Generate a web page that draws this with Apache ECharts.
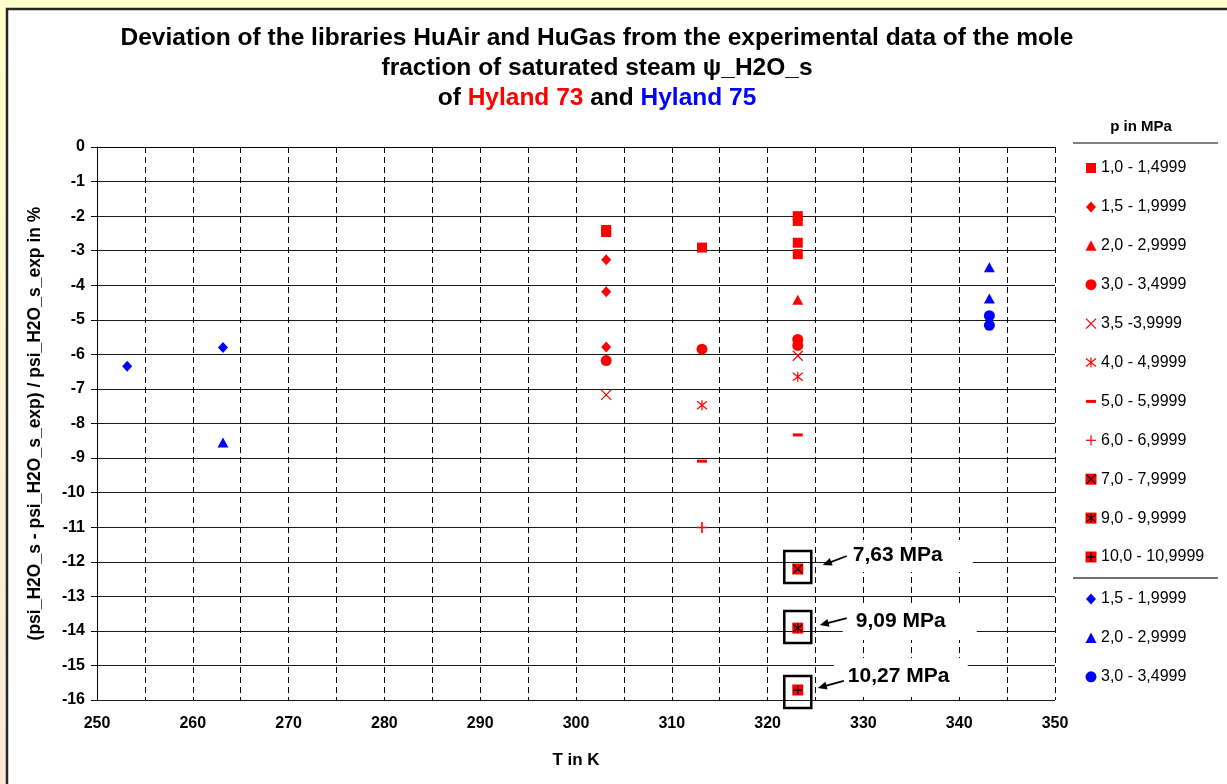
<!DOCTYPE html>
<html><head><meta charset="utf-8">
<script src="https://cdn.jsdelivr.net/npm/echarts@6/dist/echarts.min.js"></script>
<style>html,body{margin:0;padding:0;background:#fff;}#c{width:1227px;height:784px;}</style>
</head><body><div id="c"></div>
<script>
// ---- Data: Hyland 73 (red), [T in K, deviation in %]
const h73_p10  = [[303.15,-2.40],[303.15,-2.46],[313.15,-2.91],[323.15,-2.00],[323.15,-2.14],[323.15,-2.77],[323.15,-3.10]];
const h73_p15  = [[303.15,-3.26],[303.15,-4.19],[303.15,-5.79]];
const h73_p20  = [[323.15,-4.42]];
const h73_p30  = [[303.15,-6.18],[313.15,-5.85],[323.15,-5.57],[323.15,-5.74]];
const h73_p35  = [[303.15,-7.17],[323.15,-6.04]];
const h73_p40  = [[313.15,-7.47],[323.15,-6.65]];
const h73_p50  = [[313.15,-9.09],[323.15,-8.33]];
const h73_p60  = [[313.15,-11.01]];
const h73_p70  = [[323.15,-12.21]];
const h73_p90  = [[323.15,-13.92]];
const h73_p100 = [[323.15,-15.71]];
// ---- Data: Hyland 75 (blue)
const h75_p15 = [[253.15,-6.34],[263.15,-5.80]];
const h75_p20 = [[263.15,-8.55],[343.15,-3.48],[343.15,-4.38]];
const h75_p30 = [[343.15,-4.88],[343.15,-5.16]];

const legendLabels73 = ['1,0 - 1,4999','1,5 - 1,9999','2,0 - 2,9999','3,0 - 3,4999','3,5 -3,9999','4,0 - 4,9999','5,0 - 5,9999','6,0 - 6,9999','7,0 - 7,9999','9,0 - 9,9999','10,0 - 10,9999'];
const legendLabels75 = ['1,5 - 1,9999','2,0 - 2,9999','3,0 - 3,4999'];
const annotationTexts = ['7,63 MPa','9,09 MPa','10,27 MPa'];
const annotationPoints = [h73_p70[0], h73_p90[0], h73_p100[0]];

const titleLines = ['Deviation of the libraries HuAir and HuGas from the experimental data of the mole','fraction of saturated steam \u03c8_H2O_s'];
const titleParts = ['of ','Hyland 73',' and ','Hyland 75'];
const xName = 'T in K';
const yName = '(psi_H2O_s - psi_H2O_s_exp) / psi_H2O_s_exp in %';
const legendTitle = 'p in MPa';

const RED = '#FF0000', BLUE = '#0000FF', BLK = '#000000';
const FONT = '"Liberation Sans", Arial, sans-serif';

const P_CROSS = 'path://M0,0L10,10M10,0L0,10';
const P_STAR = 'path://M0,1L10,9M10,1L0,9M5,0L5,10';
const P_PLUS = 'path://M5,0L5,10M0,5L10,5';

function filled(name, data, color, symbol, size){
  return {type:'scatter', name, data, symbol, symbolSize:size, itemStyle:{color, opacity:1}, emphasis:{disabled:true}, silent:true, z:3};
}
function stroked(name, data, color, symbol, size, w){
  return {type:'scatter', name, data, symbol, symbolSize:size, itemStyle:{color:'rgba(0,0,0,0)', borderColor:color, borderWidth:w||1.2, opacity:1}, emphasis:{disabled:true}, silent:true, z:4};
}

const series = [
  filled('73 1,0', h73_p10, RED, 'rect', 10),
  filled('73 1,5', h73_p15, RED, 'diamond', [10,11]),
  filled('73 2,0', h73_p20, RED, 'triangle', [11,10]),
  filled('73 3,0', h73_p30, RED, 'circle', 11),
  stroked('73 3,5', h73_p35, RED, P_CROSS, 10),
  stroked('73 4,0', h73_p40, RED, P_STAR, 10),
  filled('73 5,0', h73_p50, RED, 'rect', [10,3]),
  stroked('73 6,0', h73_p60, RED, P_PLUS, 11, 1.6),
  filled('73 7,0', h73_p70, RED, 'rect', 11),
  stroked('73 7,0 x', h73_p70, BLK, P_CROSS, 9, 1.2),
  filled('73 9,0', h73_p90, RED, 'rect', 11),
  stroked('73 9,0 x', h73_p90, BLK, P_STAR, 9, 1.2),
  filled('73 10,0', h73_p100, RED, 'rect', 11),
  stroked('73 10,0 x', h73_p100, BLK, P_PLUS, 9, 1.4),
  filled('75 1,5', h75_p15, BLUE, 'diamond', [10,11]),
  filled('75 2,0', h75_p20, BLUE, 'triangle', [11,10]),
  filled('75 3,0', h75_p30, BLUE, 'circle', 11)
];

const chart = echarts.init(document.getElementById('c'), null, {renderer:'canvas'});
const TS = 24.5;
const option = {
  animation:false,
  backgroundColor:{type:'linear', x:0, y:0, x2:0, y2:1, colorStops:[{offset:0,color:'#FFFFCC'},{offset:1,color:'#FDE9D6'}]},
  textStyle:{fontFamily:FONT},
  title:{
    left:592, top:18, textAlign:'center',
    text: '{a|'+titleLines[0]+'}\n{a|'+titleLines[1]+'}\n{a|'+titleParts[0]+'}{r|'+titleParts[1]+'}{a|'+titleParts[2]+'}{b|'+titleParts[3]+'}',
    textStyle:{ lineHeight:30, rich:{
      a:{fontFamily:FONT, fontWeight:'bold', fontSize:TS, color:'#000', lineHeight:30},
      r:{fontFamily:FONT, fontWeight:'bold', fontSize:TS, color:RED, lineHeight:30},
      b:{fontFamily:FONT, fontWeight:'bold', fontSize:TS, color:BLUE, lineHeight:30}
    }}
  },
  grid:{left:97, right:172, top:147, bottom:84, containLabel:false},
  xAxis:{
    type:'value', min:250, max:350, interval:10,
    name:xName, nameLocation:'middle', nameGap:52,
    nameTextStyle:{fontFamily:FONT, fontWeight:'bold', fontSize:17, color:'#000'},
    axisLine:{show:true, lineStyle:{color:'#000', width:1}},
    axisTick:{show:true, inside:false, length:6, lineStyle:{color:'#000'}},
    axisLabel:{fontFamily:FONT, fontWeight:'bold', fontSize:16, color:'#000', margin:16},
    splitLine:{show:true, lineStyle:{color:'#000', type:[6,4], width:1}},
    minorTick:{show:false, splitNumber:2},
    minorSplitLine:{show:true, lineStyle:{color:'#000', type:[6,4], width:1}}
  },
  yAxis:{
    type:'value', min:-16, max:0, interval:1,
    name:yName, nameLocation:'middle', nameGap:53, nameRotate:90,
    nameTextStyle:{fontFamily:FONT, fontWeight:'bold', fontSize:17.5, color:'#000'},
    axisLine:{show:true, onZero:false, lineStyle:{color:'#000', width:1}},
    axisTick:{show:true, inside:false, length:6, lineStyle:{color:'#000'}},
    axisLabel:{fontFamily:FONT, fontWeight:'bold', fontSize:16, color:'#000', margin:12},
    splitLine:{show:true, lineStyle:{color:'#1a1a1a', width:1}}
  },
  series
};
chart.setOption(option);

// ---------- graphics: panel, legend, annotations ----------
const g = [];
g.push({type:'rect', z:-100, silent:true, shape:{x:7, y:9, width:1240, height:800}, style:{fill:'#fff', stroke:'#262626', lineWidth:2.5}});

function legendSym(kind, color, cx, cy){
  const els = [];
  const s = {fill:color};
  const ln = (x1,y1,x2,y2,c,w)=>els.push({type:'line', shape:{x1,y1,x2,y2}, style:{stroke:c, lineWidth:w||1.2}});
  switch(kind){
    case 'rect': els.push({type:'rect', shape:{x:cx-5,y:cy-5,width:10,height:10}, style:s}); break;
    case 'diamond': els.push({type:'polygon', shape:{points:[[cx,cy-5.5],[cx+5,cy],[cx,cy+5.5],[cx-5,cy]]}, style:s}); break;
    case 'triangle': els.push({type:'polygon', shape:{points:[[cx,cy-5.5],[cx+5.5,cy+5],[cx-5.5,cy+5]]}, style:s}); break;
    case 'circle': els.push({type:'circle', shape:{cx,cy,r:5.5}, style:s}); break;
    case 'cross': ln(cx-5,cy-5,cx+5,cy+5,color); ln(cx+5,cy-5,cx-5,cy+5,color); break;
    case 'star': ln(cx-5,cy-4,cx+5,cy+4,color); ln(cx+5,cy-4,cx-5,cy+4,color); ln(cx,cy-5,cx,cy+5,color); break;
    case 'dash': els.push({type:'rect', shape:{x:cx-5,y:cy-1.5,width:10,height:3}, style:s}); break;
    case 'plus': ln(cx,cy-5,cx,cy+5,color); ln(cx-5,cy,cx+5,cy,color); break;
    case 'rectCross': els.push({type:'rect', shape:{x:cx-5.5,y:cy-5.5,width:11,height:11}, style:s}); ln(cx-4.5,cy-4.5,cx+4.5,cy+4.5,BLK); ln(cx+4.5,cy-4.5,cx-4.5,cy+4.5,BLK); break;
    case 'rectStar': els.push({type:'rect', shape:{x:cx-5.5,y:cy-5.5,width:11,height:11}, style:s}); ln(cx-4.5,cy-3.5,cx+4.5,cy+3.5,BLK); ln(cx+4.5,cy-3.5,cx-4.5,cy+3.5,BLK); ln(cx,cy-4.5,cx,cy+4.5,BLK); break;
    case 'rectPlus': els.push({type:'rect', shape:{x:cx-5.5,y:cy-5.5,width:11,height:11}, style:s}); ln(cx,cy-4.5,cx,cy+4.5,BLK,1.4); ln(cx-4.5,cy,cx+4.5,cy,BLK,1.4); break;
  }
  return els;
}
const kinds73 = ['rect','diamond','triangle','circle','cross','star','dash','plus','rectCross','rectStar','rectPlus'];
const kinds75 = ['diamond','triangle','circle'];
const LX = 1091, TX = 1101;
g.push({type:'text', x:1141, y:127, style:{text:legendTitle, font:'bold 15px '+FONT, fill:'#000', textAlign:'center', textVerticalAlign:'middle'}});
g.push({type:'line', shape:{x1:1073,y1:143,x2:1218,y2:143}, style:{stroke:'#808080', lineWidth:2}});
legendLabels73.forEach((t,i)=>{
  const cy = 168 + 38.9*i;
  legendSym(kinds73[i], RED, LX, cy).forEach(e=>g.push(e));
  g.push({type:'text', x:TX, y:cy, style:{text:t, font:'16px '+FONT, fill:'#000', textAlign:'left', textVerticalAlign:'middle'}});
});
g.push({type:'line', shape:{x1:1073,y1:578,x2:1218,y2:578}, style:{stroke:'#404040', lineWidth:1.5}});
legendLabels75.forEach((t,i)=>{
  const cy = 599 + 38.9*i;
  legendSym(kinds75[i], BLUE, LX, cy).forEach(e=>g.push(e));
  g.push({type:'text', x:TX, y:cy, style:{text:t, font:'16px '+FONT, fill:'#000', textAlign:'left', textVerticalAlign:'middle'}});
});

// annotation layout offsets (pixels, relative to marker)
const annLayout = [
  {box:-2, bg:[34,-29,141,32], lab:[55,-14], tail:[49,-13], head:[25,-4]},
  {box:-1, bg:[45,-24,134,36], lab:[58,-7],  tail:[49,-10], head:[22,-3]},
  {box: 2, bg:[36,-32,134,36], lab:[50,-14], tail:[46,-9],  head:[20,-2]}
];
annotationPoints.forEach((pt,i)=>{
  const [px,py] = chart.convertToPixel({gridIndex:0}, pt);
  const L = annLayout[i];
  g.push({type:'rect', z:5, shape:{x:px+L.bg[0], y:py+L.bg[1], width:L.bg[2], height:L.bg[3]}, style:{fill:'#fff'}});
  g.push({type:'rect', z:6, shape:{x:px-13.5, y:py+L.box-16, width:27, height:32}, style:{fill:'none', stroke:'#000', lineWidth:2.5}});
  const tx = px+L.tail[0], ty = py+L.tail[1], hx = px+L.head[0], hy = py+L.head[1];
  const dx = hx-tx, dy = hy-ty, len = Math.hypot(dx,dy), ux = dx/len, uy = dy/len;
  const bx = hx-ux*9, by = hy-uy*9;
  g.push({type:'line', z:6, shape:{x1:tx,y1:ty,x2:bx+ux*2,y2:by+uy*2}, style:{stroke:'#000', lineWidth:1.8}});
  g.push({type:'polygon', z:6, shape:{points:[[hx,hy],[bx-uy*4,by+ux*4],[bx+uy*4,by-ux*4]]}, style:{fill:'#000'}});
  g.push({type:'text', z:6, x:px+L.lab[0], y:py+L.lab[1], style:{text:annotationTexts[i], font:'bold 21px '+FONT, fill:'#000', textAlign:'left', textVerticalAlign:'middle'}});
});
chart.setOption({graphic:{elements:g}});
</script></body></html>
